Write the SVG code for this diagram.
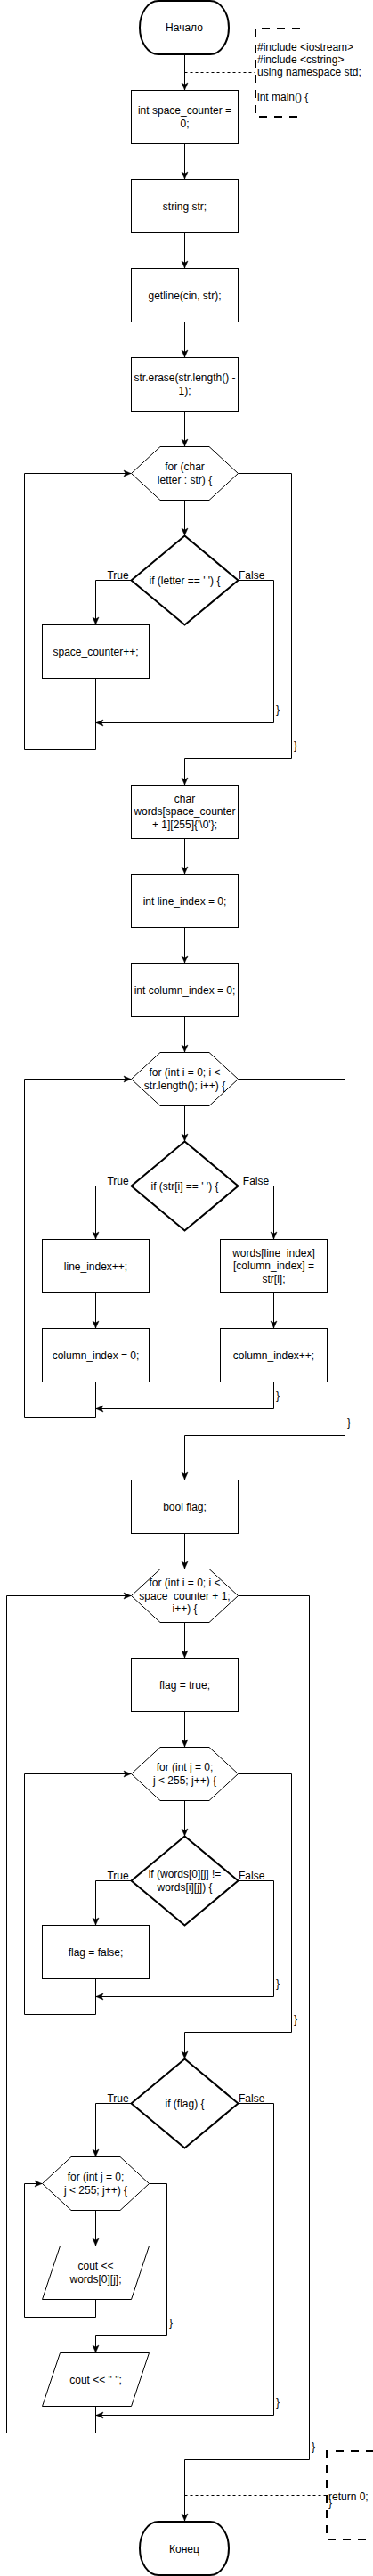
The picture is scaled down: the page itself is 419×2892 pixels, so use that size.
<svg xmlns="http://www.w3.org/2000/svg" width="419" height="2892" viewBox="0 0 419 2892">
<style>
.n{fill:#fff;stroke:#000;stroke-width:1}
.k{fill:#fff;stroke:#000;stroke-width:2}
.c{fill:none;stroke:#000;stroke-width:1}
.a{marker-end:url(#arr)}
.d{fill:none;stroke:#000;stroke-width:1;stroke-dasharray:3 3}
.b{fill:none;stroke:#000;stroke-width:2;stroke-dasharray:9 8}
text{font-family:"Liberation Sans",Arial,Helvetica,sans-serif;font-size:12px;fill:#000}
.m{text-anchor:middle}
</style>
<defs>
<marker id="arr" viewBox="0 0 10 10" refX="10" refY="5" markerWidth="10" markerHeight="10" markerUnits="userSpaceOnUse" orient="auto">
<path d="M2,1.5 L10,5 L2,8.5 L4,5 Z" fill="#000" stroke="#000" stroke-width="0.5"/>
</marker>
</defs>
<rect width="419" height="2892" fill="#fff"/>

<g id="connectors">
<path class="c a" d="M207.5 62 V101"/>
<path class="c a" d="M207.5 161.5 V201"/>
<path class="c a" d="M207.5 261.5 V301"/>
<path class="c a" d="M207.5 361.5 V401"/>
<path class="c a" d="M207.5 461.5 V501"/>
<path class="c a" d="M207.5 561.5 V601"/>
<path class="c a" d="M147 651.5 H107.5 V701"/>
<path class="c a" d="M268 651.5 H307.5 V811.5 H108"/>
<path class="c a" d="M107.5 761.5 V841.5 H27.5 V531.5 H147"/>
<path class="c a" d="M267.5 531.5 H327.5 V851.5 H207.5 V881"/>
<path class="c a" d="M207.5 941.5 V981"/>
<path class="c a" d="M207.5 1041.5 V1081"/>
<path class="c a" d="M207.5 1141.5 V1181"/>
<path class="c a" d="M207.5 1241.5 V1281"/>
<path class="c a" d="M147 1331.5 H107.5 V1391"/>
<path class="c a" d="M268 1331.5 H307.5 V1391"/>
<path class="c a" d="M107.5 1451.5 V1491"/>
<path class="c a" d="M307.5 1451.5 V1491"/>
<path class="c a" d="M307.5 1551.5 V1581.5 H108"/>
<path class="c a" d="M107.5 1551.5 V1591.5 H27.5 V1211.5 H147"/>
<path class="c a" d="M267.5 1211.5 H387.5 V1611.5 H207.5 V1661"/>
<path class="c a" d="M207.5 1721.5 V1761"/>
<path class="c a" d="M207.5 1821.5 V1861"/>
<path class="c a" d="M207.5 1921.5 V1961"/>
<path class="c a" d="M207.5 2021.5 V2061"/>
<path class="c a" d="M147 2111.5 H107.5 V2161"/>
<path class="c a" d="M268 2111.5 H307.5 V2241.5 H108"/>
<path class="c a" d="M107.5 2221.5 V2261.5 H27.5 V1991.5 H147"/>
<path class="c a" d="M267.5 1991.5 H327.5 V2281.5 H207.5 V2311"/>
<path class="c a" d="M147 2361.5 H107.5 V2421"/>
<path class="c a" d="M268 2361.5 H307.5 V2711.5 H108"/>
<path class="c a" d="M107.5 2481.5 V2521"/>
<path class="c a" d="M107.5 2581.5 V2601.5 H27.5 V2451.5 H47"/>
<path class="c a" d="M167.5 2451.5 H187.5 V2621.5 H107.5 V2641"/>
<path class="c a" d="M107.5 2701.5 V2731.5 H7.5 V1791.5 H147"/>
<path class="c a" d="M267.5 1791.5 H347.5 V2761.5 H207.5 V2830"/>
<path class="d" d="M207.5 81.5 H287"/>
<path class="d" d="M207.5 2801.5 H367"/>
<text x="132.5" y="650" class="m">True</text>
<text x="268" y="650">False</text>
<text x="310" y="801">}</text>
<text x="330" y="841">}</text>
<text x="132.5" y="1330" class="m">True</text>
<text x="287.5" y="1330" class="m">False</text>
<text x="310" y="1571">}</text>
<text x="390" y="1601">}</text>
<text x="132.5" y="2110" class="m">True</text>
<text x="268" y="2110">False</text>
<text x="310" y="2231">}</text>
<text x="330" y="2271">}</text>
<text x="132.5" y="2360" class="m">True</text>
<text x="268" y="2360">False</text>
<text x="190" y="2611.5">}</text>
<text x="310" y="2701">}</text>
<text x="350" y="2751">}</text>
</g>

<g id="start">
<rect class="k" x="157" y="1" width="100" height="60" rx="21" ry="30"/>
<text x="207" y="35" class="m">Начало</text>
</g>
<g id="note-top">
<path class="b" d="M337 32 H287 V131 H337"/>
<text x="289" y="57">#include &lt;iostream&gt;</text>
<text x="289" y="71">#include &lt;cstring&gt;</text>
<text x="289" y="85">using namespace std;</text>
<text x="289" y="113">int main() {</text>
</g>
<g id="n1">
<rect class="n" x="147.5" y="101.5" width="120" height="60"/>
<text x="207.5" y="128" class="m">int space_counter =</text>
<text x="207.5" y="142.5" class="m">0;</text>
</g>
<g id="n2">
<rect class="n" x="147.5" y="201.5" width="120" height="60"/>
<text x="207.5" y="235.5" class="m">string str;</text>
</g>
<g id="n3">
<rect class="n" x="147.5" y="301.5" width="120" height="60"/>
<text x="207.5" y="335.5" class="m">getline(cin, str);</text>
</g>
<g id="n4">
<rect class="n" x="147.5" y="401.5" width="120" height="60"/>
<text x="207.5" y="428" class="m">str.erase(str.length() -</text>
<text x="207.5" y="442.5" class="m">1);</text>
</g>
<g id="loop1">
<polygon class="n" points="147.5,531.5 180,501.5 235,501.5 267.5,531.5 235,561.5 180,561.5"/>
<text x="207.5" y="528" class="m">for (char</text>
<text x="207.5" y="542.5" class="m">letter : str) {</text>
</g>
<g id="if1">
<polygon class="k" points="207.5,601.5 267.5,651.5 207.5,701.5 147.5,651.5"/>
<text x="207.5" y="655.5" class="m">if (letter == ' ') {</text>
</g>
<g id="n5">
<rect class="n" x="47.5" y="701.5" width="120" height="60"/>
<text x="107.5" y="735.5" class="m">space_counter++;</text>
</g>
<g id="n6">
<rect class="n" x="147.5" y="881.5" width="120" height="60"/>
<text x="207.5" y="900.5" class="m">char</text>
<text x="207.5" y="915" class="m">words[space_counter</text>
<text x="207.5" y="929.5" class="m">+ 1][255]{'\0'};</text>
</g>
<g id="n7">
<rect class="n" x="147.5" y="981.5" width="120" height="60"/>
<text x="207.5" y="1015.5" class="m">int line_index = 0;</text>
</g>
<g id="n8">
<rect class="n" x="147.5" y="1081.5" width="120" height="60"/>
<text x="207.5" y="1115.5" class="m">int column_index = 0;</text>
</g>
<g id="loop2">
<polygon class="n" points="147.5,1211.5 180,1181.5 235,1181.5 267.5,1211.5 235,1241.5 180,1241.5"/>
<text x="207.5" y="1208" class="m">for (int i = 0; i &lt;</text>
<text x="207.5" y="1222.5" class="m">str.length(); i++) {</text>
</g>
<g id="if2">
<polygon class="k" points="207.5,1281.5 267.5,1331.5 207.5,1381.5 147.5,1331.5"/>
<text x="207.5" y="1335.5" class="m">if (str[i] == ' ') {</text>
</g>
<g id="n9">
<rect class="n" x="47.5" y="1391.5" width="120" height="60"/>
<text x="107.5" y="1425.5" class="m">line_index++;</text>
</g>
<g id="n10">
<rect class="n" x="247.5" y="1391.5" width="120" height="60"/>
<text x="307.5" y="1410.5" class="m">words[line_index]</text>
<text x="307.5" y="1425" class="m">[column_index] =</text>
<text x="307.5" y="1439.5" class="m">str[i];</text>
</g>
<g id="n11">
<rect class="n" x="47.5" y="1491.5" width="120" height="60"/>
<text x="107.5" y="1525.5" class="m">column_index = 0;</text>
</g>
<g id="n12">
<rect class="n" x="247.5" y="1491.5" width="120" height="60"/>
<text x="307.5" y="1525.5" class="m">column_index++;</text>
</g>
<g id="n13">
<rect class="n" x="147.5" y="1661.5" width="120" height="60"/>
<text x="207.5" y="1695.5" class="m">bool flag;</text>
</g>
<g id="loop3">
<polygon class="n" points="147.5,1791.5 180,1761.5 235,1761.5 267.5,1791.5 235,1821.5 180,1821.5"/>
<text x="207.5" y="1781" class="m">for (int i = 0; i &lt;</text>
<text x="207.5" y="1795.5" class="m">space_counter + 1;</text>
<text x="207.5" y="1810" class="m">i++) {</text>
</g>
<g id="n14">
<rect class="n" x="147.5" y="1861.5" width="120" height="60"/>
<text x="207.5" y="1895.5" class="m">flag = true;</text>
</g>
<g id="loop4">
<polygon class="n" points="147.5,1991.5 180,1961.5 235,1961.5 267.5,1991.5 235,2021.5 180,2021.5"/>
<text x="207.5" y="1988" class="m">for (int j = 0;</text>
<text x="207.5" y="2002.5" class="m">j &lt; 255; j++) {</text>
</g>
<g id="if3">
<polygon class="k" points="207.5,2061.5 267.5,2111.5 207.5,2161.5 147.5,2111.5"/>
<text x="207.5" y="2108" class="m">if (words[0][j] !=</text>
<text x="207.5" y="2122.5" class="m">words[i][j]) {</text>
</g>
<g id="n15">
<rect class="n" x="47.5" y="2161.5" width="120" height="60"/>
<text x="107.5" y="2195.5" class="m">flag = false;</text>
</g>
<g id="if4">
<polygon class="k" points="207.5,2311.5 267.5,2361.5 207.5,2411.5 147.5,2361.5"/>
<text x="207.5" y="2365.5" class="m">if (flag) {</text>
</g>
<g id="loop5">
<polygon class="n" points="47.5,2451.5 80,2421.5 135,2421.5 167.5,2451.5 135,2481.5 80,2481.5"/>
<text x="107.5" y="2448" class="m">for (int j = 0;</text>
<text x="107.5" y="2462.5" class="m">j &lt; 255; j++) {</text>
</g>
<g id="out1">
<polygon class="n" points="67.5,2521.5 167.5,2521.5 147.5,2581.5 47.5,2581.5"/>
<text x="107.5" y="2548" class="m">cout &lt;&lt;</text>
<text x="107.5" y="2562.5" class="m">words[0][j];</text>
</g>
<g id="out2">
<polygon class="n" points="67.5,2641.5 167.5,2641.5 147.5,2701.5 47.5,2701.5"/>
<text x="107.5" y="2675.5" class="m">cout &lt;&lt; " ";</text>
</g>
<g id="note-bottom">
<path class="b" d="M420 2752 H367 V2851 H420"/>
<text x="369" y="2806.5">return 0;</text>
<text x="369" y="2814">}</text>
</g>
<g id="end">
<rect class="k" x="157" y="2831" width="100" height="60" rx="21" ry="30"/>
<text x="207" y="2865.5" class="m">Конец</text>
</g>
</svg>
